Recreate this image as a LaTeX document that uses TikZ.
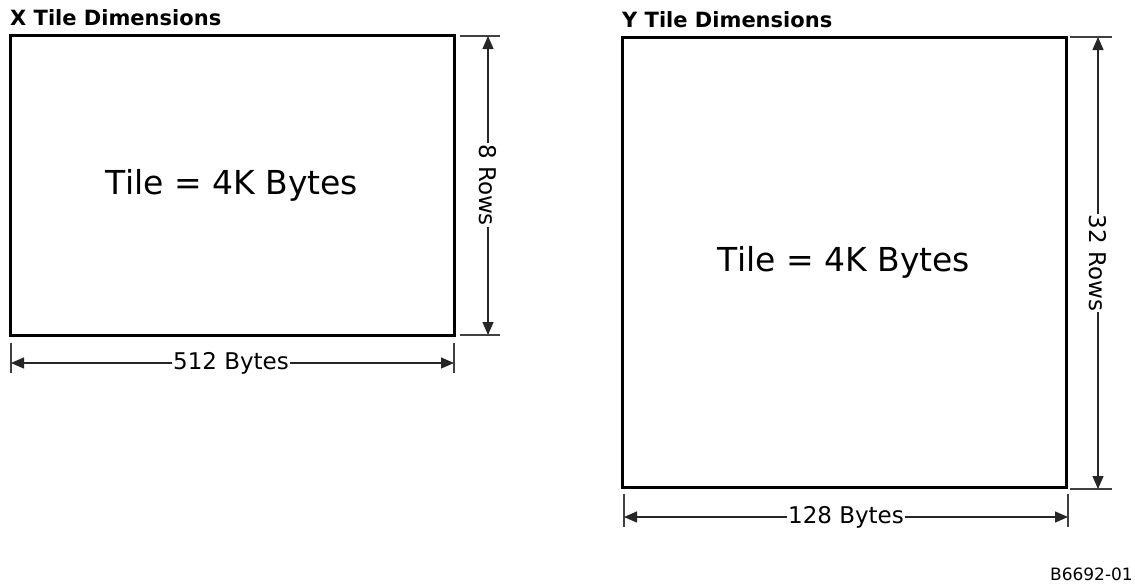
\documentclass[tikz,border=0pt]{standalone}
\usepackage{fontspec}
\setmainfont{DejaVu Sans}
\usetikzlibrary{arrows.meta}
\begin{document}
\begin{tikzpicture}[x=1pt,y=-1pt,
  tilebox/.style={draw=black,line width=3pt,inner sep=0pt,font=\fontsize{33}{38}\selectfont},
  heading/.style={anchor=base west,inner sep=0pt,font=\bfseries\fontsize{21}{24}\selectfont},
  dimline/.style={draw=black!85,line width=1.3pt,-{Triangle[length=13pt,width=11pt]}},
  dimtick/.style={draw=black!75,line width=1.2pt},
  dimlabel/.style={fill=white,inner sep=0.5pt,font=\fontsize{23}{26}\selectfont},
  idlabel/.style={anchor=base east,inner sep=0pt,font=\fontsize{17}{20}\selectfont}]
\fill[white] (0,0) rectangle (1135,584);
\useasboundingbox (0,0) rectangle (1135,584);

% headings
\node[heading] (xh) at (10,25) {X Tile Dimensions};
\node[heading] (yh) at (622,27) {Y Tile Dimensions};

% X tile
\node[tilebox,minimum width=444pt,minimum height=300pt] (xt) at (232,185) {Tile = 4K Bytes};
% Y tile
\node[tilebox,minimum width=444pt,minimum height=450pt] (yt) at (844,262) {Tile = 4K Bytes};

% X tile vertical dimension
\coordinate (xvt) at (488,36);
\coordinate (xvb) at (488,335);
\draw[dimtick] (460,36) -- (500,36);
\draw[dimtick] (460,335) -- (500,335);
\node[dimlabel,rotate=-90] (xrows) at (488,185) {8 Rows};
\draw[dimline] (xrows.west) -- (xvt);
\draw[dimline] (xrows.east) -- (xvb);

% X tile horizontal dimension
\coordinate (xhl) at (11,363);
\coordinate (xhr) at (454,363);
\draw[dimtick] (11,343) -- (11,373);
\draw[dimtick] (454,343) -- (454,373);
\node[dimlabel] (xbytes) at (231,363) {512 Bytes};
\draw[dimline] (xbytes.west) -- (xhl);
\draw[dimline] (xbytes.east) -- (xhr);

% Y tile vertical dimension
\coordinate (yvt) at (1098,37);
\coordinate (yvb) at (1098,489);
\draw[dimtick] (1070,37) -- (1112,37);
\draw[dimtick] (1070,489) -- (1112,489);
\node[dimlabel,rotate=-90] (yrows) at (1098,263) {32 Rows};
\draw[dimline] (yrows.west) -- (yvt);
\draw[dimline] (yrows.east) -- (yvb);

% Y tile horizontal dimension
\coordinate (yhl) at (624,517);
\coordinate (yhr) at (1068,517);
\draw[dimtick] (624,494) -- (624,527);
\draw[dimtick] (1068,494) -- (1068,527);
\node[dimlabel] (ybytes) at (846,517) {128 Bytes};
\draw[dimline] (ybytes.west) -- (yhl);
\draw[dimline] (ybytes.east) -- (yhr);

% figure id
\node[idlabel] (fid) at (1133,580) {B6692-01};
\end{tikzpicture}
\end{document}
